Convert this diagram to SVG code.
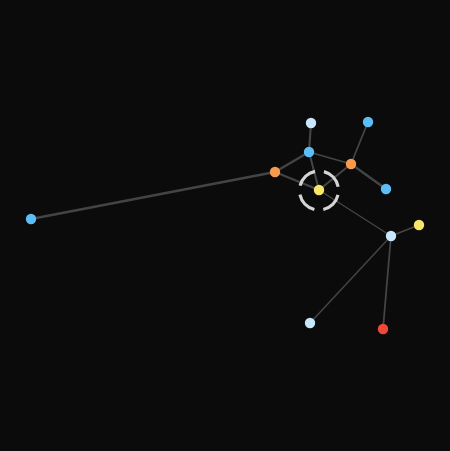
<svg xmlns="http://www.w3.org/2000/svg" width="450" height="451" viewBox="0 0 450 451">
<style>
.e{stroke:#444;fill:none;stroke-linecap:round}
.n{stroke:none}
.blue{fill:#5cbdf7}
.light{fill:#c8e7fb}
.orange{fill:#f89b4c}
.yellow{fill:#f8e66b}
.red{fill:#f2483a}
</style>
<rect width="450" height="451" fill="#0b0b0b"/>
<g id="connectors">
<line class="e" x1="31" y1="219" x2="275" y2="172" stroke-width="2.6"/>
<line class="e" x1="275" y1="172" x2="309" y2="152" stroke-width="2.4"/>
<line class="e" x1="275" y1="172" x2="319" y2="190" stroke-width="2"/>
<line class="e" x1="311" y1="123" x2="309" y2="152" stroke-width="2.2"/>
<line class="e" x1="309" y1="152" x2="319" y2="190" stroke-width="2"/>
<line class="e" x1="309" y1="152" x2="351" y2="164" stroke-width="1.8"/>
<line class="e" x1="368" y1="122" x2="351" y2="164" stroke-width="1.8"/>
<line class="e" x1="351" y1="164" x2="386" y2="189" stroke-width="2.4"/>
<line class="e" x1="351" y1="164" x2="319" y2="190" stroke-width="2"/>
<line class="e" x1="319" y1="190" x2="391" y2="236" stroke-width="1.4"/>
<line class="e" x1="391" y1="236" x2="419" y2="225" stroke-width="1.8"/>
<line class="e" x1="391" y1="236" x2="310" y2="323" stroke-width="1.5"/>
<line class="e" x1="391" y1="236" x2="383" y2="329" stroke-width="1.8"/>
</g>
<g id="ring"><circle cx="319" cy="190.5" r="19.5" fill="none" stroke="#d4d4d4" stroke-width="3.2" stroke-dasharray="21.6 9" transform="rotate(13.3 319 190.5)"/></g>
<g id="n1"><circle class="n blue" cx="31" cy="219" r="5.2"/></g>
<g id="n2"><circle class="n orange" cx="275" cy="172" r="5.2"/></g>
<g id="n3"><circle class="n light" cx="311" cy="123" r="5.2"/></g>
<g id="n4"><circle class="n blue" cx="309" cy="152" r="5.2"/></g>
<g id="n5"><circle class="n blue" cx="368" cy="122" r="5.2"/></g>
<g id="n6"><circle class="n orange" cx="351" cy="164" r="5.2"/></g>
<g id="n7"><circle class="n blue" cx="386" cy="189" r="5.2"/></g>
<g id="n8"><circle class="n yellow" cx="319" cy="190" r="5.2"/></g>
<g id="n9"><circle class="n light" cx="391" cy="236" r="5.2"/></g>
<g id="n10"><circle class="n yellow" cx="419" cy="225" r="5.2"/></g>
<g id="n11"><circle class="n light" cx="310" cy="323" r="5.2"/></g>
<g id="n12"><circle class="n red" cx="383" cy="329" r="5.2"/></g>
</svg>
